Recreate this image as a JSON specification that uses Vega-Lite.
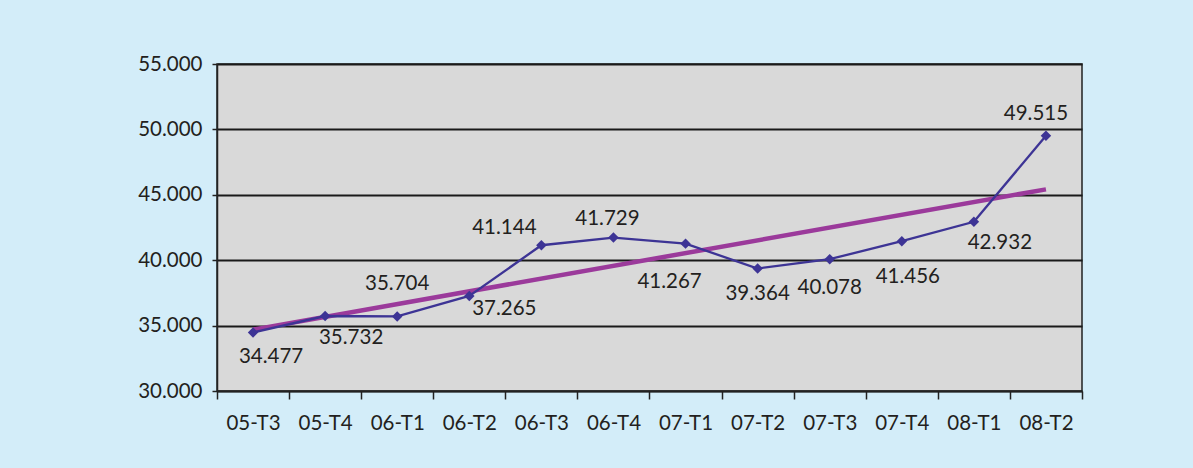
{
  "$schema": "https://vega.github.io/schema/vega-lite/v6.json",
  "width": 865,
  "height": 327,
  "autosize": {"type": "none"},
  "padding": {"left": 217, "top": 64, "right": 111, "bottom": 77},
  "background": "#d3edf9",
  "config": {
    "locale": {"number": {"decimal": ",", "thousands": ".", "grouping": [3], "currency": ["", " €"]}},
    "view": {"fill": "#d9d9d9", "stroke": "#222222", "strokeWidth": 1.5},
    "font": "Lato",
    "text": {"font": "Lato", "fontSize": 20.5, "color": "#231f20"}
  },
  "datasets": {
    "main": [
      {"q": "05-T3", "v": 34477},
      {"q": "05-T4", "v": 35732},
      {"q": "06-T1", "v": 35704},
      {"q": "06-T2", "v": 37265},
      {"q": "06-T3", "v": 41144},
      {"q": "06-T4", "v": 41729},
      {"q": "07-T1", "v": 41267},
      {"q": "07-T2", "v": 39364},
      {"q": "07-T3", "v": 40078},
      {"q": "07-T4", "v": 41456},
      {"q": "08-T1", "v": 42932},
      {"q": "08-T2", "v": 49515}
    ],
    "trend": [
      {"q": "05-T3", "v": 34695},
      {"q": "08-T2", "v": 45416}
    ]
  },
  "encoding": {
    "x": {
      "field": "q", "type": "ordinal", "title": null,
      "scale": {"type": "band", "paddingInner": 0, "paddingOuter": 0},
      "axis": {
        "labelAngle": 0, "tickBand": "extent", "tickSize": 8, "tickColor": "#222222", "tickWidth": 1.5,
        "domainColor": "#222222", "domainWidth": 1.5, "labelFont": "Lato", "labelFontSize": 20.5,
        "labelColor": "#231f20", "labelPadding": 14, "grid": false
      }
    },
    "y": {
      "field": "v", "type": "quantitative", "title": null,
      "scale": {"domain": [30000, 55000], "nice": false, "zero": false},
      "axis": {
        "values": [30000, 35000, 40000, 45000, 50000, 55000], "format": ",.0f",
        "tickSize": 5, "tickColor": "#222222", "tickWidth": 1.5, "domainColor": "#222222", "domainWidth": 1.5,
        "grid": true, "gridColor": "#1a1a1a", "gridWidth": 1.8, "gridOpacity": 1,
        "labelFont": "Lato", "labelFontSize": 20.5, "labelColor": "#231f20", "labelPadding": 10
      }
    }
  },
  "layer": [
    {"data": {"name": "trend"}, "mark": {"type": "line", "color": "#9b3a9b", "strokeWidth": 4.5}},
    {"data": {"name": "main"}, "mark": {"type": "line", "color": "#3d3495", "strokeWidth": 2.3,
      "point": {"shape": "diamond", "size": 110, "filled": true, "color": "#3d3495", "opacity": 1}}},
    {"data": {"name": "main"}, "transform": [{"filter": {"field": "q", "equal": "05-T3"}}], "mark": {"type": "text", "dx": 18, "dy": 25}, "encoding": {"text": {"field": "v", "format": ",.0f"}}},
    {"data": {"name": "main"}, "transform": [{"filter": {"field": "q", "equal": "05-T4"}}], "mark": {"type": "text", "dx": 26, "dy": 22}, "encoding": {"text": {"field": "v", "format": ",.0f"}}},
    {"data": {"name": "main"}, "transform": [{"filter": {"field": "q", "equal": "06-T1"}}], "mark": {"type": "text", "dx": 0, "dy": -32}, "encoding": {"text": {"field": "v", "format": ",.0f"}}},
    {"data": {"name": "main"}, "transform": [{"filter": {"field": "q", "equal": "06-T2"}}], "mark": {"type": "text", "dx": 35, "dy": 13}, "encoding": {"text": {"field": "v", "format": ",.0f"}}},
    {"data": {"name": "main"}, "transform": [{"filter": {"field": "q", "equal": "06-T3"}}], "mark": {"type": "text", "dx": -37, "dy": -17}, "encoding": {"text": {"field": "v", "format": ",.0f"}}},
    {"data": {"name": "main"}, "transform": [{"filter": {"field": "q", "equal": "06-T4"}}], "mark": {"type": "text", "dx": -6, "dy": -19}, "encoding": {"text": {"field": "v", "format": ",.0f"}}},
    {"data": {"name": "main"}, "transform": [{"filter": {"field": "q", "equal": "07-T1"}}], "mark": {"type": "text", "dx": -16, "dy": 38}, "encoding": {"text": {"field": "v", "format": ",.0f"}}},
    {"data": {"name": "main"}, "transform": [{"filter": {"field": "q", "equal": "07-T2"}}], "mark": {"type": "text", "dx": 0, "dy": 25}, "encoding": {"text": {"field": "v", "format": ",.0f"}}},
    {"data": {"name": "main"}, "transform": [{"filter": {"field": "q", "equal": "07-T3"}}], "mark": {"type": "text", "dx": 0, "dy": 29}, "encoding": {"text": {"field": "v", "format": ",.0f"}}},
    {"data": {"name": "main"}, "transform": [{"filter": {"field": "q", "equal": "07-T4"}}], "mark": {"type": "text", "dx": 6, "dy": 36}, "encoding": {"text": {"field": "v", "format": ",.0f"}}},
    {"data": {"name": "main"}, "transform": [{"filter": {"field": "q", "equal": "08-T1"}}], "mark": {"type": "text", "dx": 26, "dy": 21}, "encoding": {"text": {"field": "v", "format": ",.0f"}}},
    {"data": {"name": "main"}, "transform": [{"filter": {"field": "q", "equal": "08-T2"}}], "mark": {"type": "text", "dx": -10, "dy": -22}, "encoding": {"text": {"field": "v", "format": ",.0f"}}}
  ]
}
